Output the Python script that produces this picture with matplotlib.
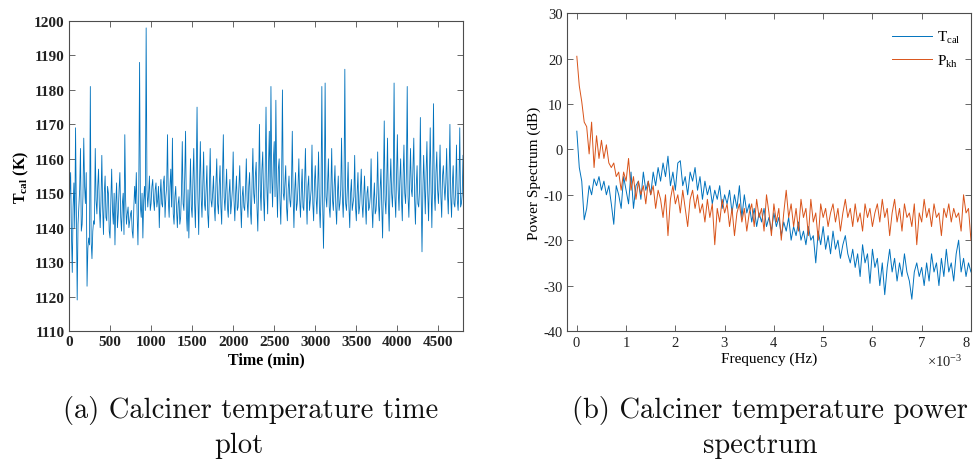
import numpy as np
import matplotlib
matplotlib.use("Agg")
import matplotlib.pyplot as plt
from matplotlib.ticker import ScalarFormatter, MultipleLocator

plt.rcParams['font.family'] = ['Liberation Serif', 'DejaVu Serif']
plt.rcParams['mathtext.fontset'] = 'custom'
plt.rcParams['mathtext.rm'] = 'Liberation Serif'
plt.rcParams['mathtext.it'] = 'Liberation Serif:italic'
plt.rcParams['mathtext.bf'] = 'Liberation Serif:bold'
plt.rcParams['axes.unicode_minus'] = False

# Calciner temperature, sampled every 10 min (K)
time_step_min = 10
t_cal = [
    1143, 1150, 1156, 1138, 1127, 1146, 1153, 1140, 1169, 1144, 1119, 1141, 1146, 1151, 1163, 1139, 1141, 1149, 1166, 1152,
    1147, 1156, 1123, 1134, 1137, 1135, 1181, 1136, 1131, 1139, 1142, 1141, 1163, 1148, 1144, 1152, 1157, 1146, 1140, 1148,
    1161, 1146, 1138, 1150, 1155, 1143, 1142, 1152, 1150, 1139, 1137, 1148, 1157, 1145, 1141, 1150, 1135, 1147, 1153, 1140,
    1144, 1151, 1156, 1143, 1139, 1147, 1150, 1138, 1167, 1148, 1141, 1144, 1146, 1140, 1142, 1144, 1145, 1139, 1137, 1146,
    1152, 1147, 1156, 1144, 1135, 1150, 1188, 1146, 1143, 1150, 1137, 1148, 1152, 1145, 1198, 1151, 1146, 1150, 1155, 1145,
    1147, 1152, 1154, 1148, 1145, 1151, 1153, 1146, 1148, 1152, 1140, 1149, 1154, 1147, 1146, 1153, 1155, 1143, 1149, 1152,
    1167, 1148, 1143, 1152, 1157, 1146, 1166, 1144, 1141, 1149, 1152, 1145, 1140, 1147, 1149, 1141, 1143, 1150, 1165, 1147,
    1145, 1155, 1168, 1144, 1139, 1151, 1137, 1149, 1160, 1146, 1143, 1154, 1163, 1147, 1140, 1156, 1175, 1149, 1138, 1153,
    1165, 1149, 1143, 1153, 1162, 1147, 1145, 1151, 1158, 1144, 1140, 1152, 1163, 1148, 1146, 1150, 1155, 1146, 1142, 1153,
    1160, 1147, 1144, 1152, 1158, 1146, 1141, 1155, 1167, 1149, 1145, 1151, 1157, 1146, 1143, 1150, 1154, 1144, 1147, 1151,
    1162, 1148, 1142, 1150, 1155, 1145, 1146, 1152, 1158, 1147, 1140, 1149, 1152, 1146, 1145, 1151, 1160, 1148, 1143, 1152,
    1156, 1145, 1141, 1153, 1163, 1150, 1147, 1155, 1159, 1146, 1139, 1152, 1170, 1151, 1145, 1157, 1162, 1149, 1142, 1156,
    1175, 1152, 1144, 1158, 1168, 1150, 1181, 1155, 1146, 1160, 1165, 1149, 1177, 1153, 1143, 1157, 1160, 1148, 1141, 1154,
    1180, 1150, 1148, 1153, 1158, 1146, 1142, 1151, 1155, 1148, 1146, 1152, 1168, 1149, 1140, 1151, 1156, 1145, 1147, 1152,
    1160, 1148, 1143, 1151, 1157, 1146, 1145, 1153, 1163, 1149, 1141, 1152, 1155, 1145, 1148, 1151, 1164, 1147, 1142, 1153,
    1158, 1149, 1144, 1152, 1162, 1146, 1140, 1150, 1181, 1147, 1134, 1150, 1182, 1149, 1146, 1153, 1160, 1146, 1143, 1151,
    1163, 1148, 1145, 1152, 1158, 1146, 1141, 1150, 1155, 1145, 1147, 1151, 1166, 1149, 1143, 1152, 1186, 1147, 1145, 1151,
    1159, 1146, 1140, 1150, 1154, 1145, 1147, 1149, 1161, 1146, 1142, 1150, 1156, 1144, 1146, 1151, 1157, 1147, 1143, 1149,
    1155, 1147, 1141, 1150, 1152, 1145, 1146, 1149, 1160, 1146, 1140, 1148, 1153, 1144, 1145, 1150, 1162, 1147, 1142, 1151,
    1157, 1146, 1137, 1152, 1171, 1148, 1144, 1153, 1166, 1147, 1139, 1152, 1160, 1150, 1146, 1154, 1182, 1149, 1143, 1155,
    1167, 1151, 1145, 1154, 1160, 1148, 1142, 1155, 1164, 1150, 1147, 1156, 1181, 1149, 1143, 1153, 1163, 1151, 1149, 1157,
    1166, 1148, 1141, 1152, 1158, 1147, 1146, 1151, 1172, 1149, 1133, 1150, 1161, 1153, 1144, 1156, 1165, 1150, 1142, 1154,
    1169, 1152, 1140, 1155, 1176, 1150, 1145, 1156, 1162, 1151, 1147, 1154, 1164, 1149, 1143, 1155, 1158, 1152, 1148, 1153,
    1163, 1150, 1144, 1155, 1170, 1149, 1143, 1153, 1158, 1147, 1146, 1151, 1164, 1148, 1145, 1152, 1169, 1146, 1147, 1150,
    1161,
]

# Power spectra (dB), frequency step 0.05e-3 Hz
freq_step_mhz = 0.05
spec_tcal = [
    4, -4, -7, -15.5, -13, -8, -10, -6.5, -8, -6, -9, -7, -10, -8, -12, -16.5, -8, -10, -13, -6,
    -9, -12, -5, -13, -8, -7, -11, -5, -9, -7, -10, -5, -8, -4, -7, -3, -6, -1.5, -8, -5,
    -9, -3, -2.5, -8, -6, -10, -5, -7, -4, -9, -6, -11, -7, -10, -8, -12, -9, -11, -8, -13,
    -10, -12, -9, -14, -10, -13, -8, -15, -10, -14, -12, -16, -13, -17, -14, -16, -13, -17, -15, -18,
    -14, -17, -15, -19, -16, -18, -15, -20, -17, -19, -16, -20, -18, -21, -17, -20, -19, -25, -18, -21,
    -17, -22, -19, -23, -18, -22, -20, -24, -21, -19, -23, -25, -22, -26, -23, -28, -21, -25, -23, -29.5,
    -22, -26, -24, -30, -25, -32, -26, -22, -27, -24, -29, -25, -28, -23, -27, -29, -33, -27, -25, -28,
    -26, -30, -25, -29, -23, -27, -25, -30, -24, -28, -22, -27, -25, -29, -23, -20, -27, -24, -28, -25,
    -27,
]
spec_pkh = [
    20.5, 14, 10.5, 6, 5, -1, 6, -4, 3, -2, 2, -2, 1, -3, -4, -3, -6, -5, -9, -5,
    -7, -2, -9, -6, -11, -7, -10, -8, -12, -7, -10, -8, -13, -9, -11, -15, -10, -19, -11, -8,
    -12, -10, -14, -9, -13, -17, -11, -9, -13, -10, -14, -12, -16, -11, -15, -12, -21, -13, -16, -11,
    -14, -12, -17, -13, -19, -14, -12, -16, -13, -18, -14, -12, -17, -11, -15, -13, -18, -10, -14, -19,
    -12, -16, -13, -20, -14, -9, -15, -12, -17, -13, -18, -11, -15, -13, -19, -11, -16, -14, -20, -12,
    -15, -13, -17, -14, -12, -16, -13, -18, -14, -11, -15, -13, -17, -12, -16, -14, -18, -12, -15, -13,
    -17, -14, -12, -16, -11, -15, -13, -19, -14, -11, -16, -13, -18, -12, -15, -14, -17, -12, -21, -14,
    -16, -11, -15, -13, -17, -12, -15, -14, -19, -13, -15, -12, -16, -13, -15, -14, -18, -10, -14, -13,
    -20,
]
series_labels = [r'T$_{\rm cal}$', r'P$_{\rm kh}$']
caption_a = ['(a) Calciner temperature time', 'plot']
caption_b = ['(b) Calciner temperature power', 'spectrum']

blue = '#0072BD'
orange = '#D95319'
spine_col = '#4d4d4d'

time_min = np.arange(len(t_cal)) * time_step_min
freq_hz = np.arange(len(spec_tcal)) * freq_step_mhz * 1e-3

fig = plt.figure(figsize=(9.73, 4.64), dpi=100)

# ---- (a) time plot ----
ax1 = fig.add_axes([0.0709, 0.2845, 0.405, 0.668])
ax1.plot(time_min, t_cal, color=blue, lw=0.6)
ax1.set_xlim(0, 4800)
ax1.set_ylim(1110, 1200)
ax1.xaxis.set_major_locator(MultipleLocator(500))
ax1.yaxis.set_major_locator(MultipleLocator(10))
ax1.set_xlabel('Time (min)', fontsize=11.5, fontweight='bold', labelpad=2)
ax1.set_ylabel(r'$\mathbf{T_{cal}}$ (K)', fontsize=11.5, fontweight='bold', labelpad=2)
for lab in ax1.get_xticklabels() + ax1.get_yticklabels():
    lab.set_fontweight('bold')
ax1.tick_params(labelsize=11)

# ---- (b) power spectrum ----
ax2 = fig.add_axes([0.5827, 0.2845, 0.4152, 0.685])
ax2.plot(freq_hz, spec_tcal, color=blue, lw=0.7, label=series_labels[0])
ax2.plot(freq_hz, spec_pkh, color=orange, lw=0.7, label=series_labels[1])
ax2.set_xlim(-0.2e-3, 8e-3)
ax2.set_ylim(-40, 30)
ax2.xaxis.set_major_locator(MultipleLocator(1e-3))
ax2.yaxis.set_major_locator(MultipleLocator(10))
fmt = ScalarFormatter(useMathText=True)
fmt.set_powerlimits((-2, 2))
ax2.xaxis.set_major_formatter(fmt)
offset = ax2.xaxis.get_offset_text()
offset.set_fontsize(10.5)
offset.set_x(0.98)
ax2.set_xlabel('Frequency (Hz)', fontsize=11, labelpad=2)
ax2.set_ylabel('Power Spectrum (dB)', fontsize=11, labelpad=2)
ax2.tick_params(labelsize=10.5)
leg = ax2.legend(loc='upper right', bbox_to_anchor=(1.0, 0.984), frameon=False, fontsize=11,
                 handlelength=2.6, handletextpad=0.3, labelspacing=0.5, borderaxespad=0.3)

for ax in (ax1, ax2):
    ax.tick_params(direction='in', top=True, right=True, length=4, width=0.6,
                   color=spine_col, labelcolor='#222222', pad=3)
    for s in ax.spines.values():
        s.set_color(spine_col)
        s.set_linewidth(0.8)

# keep the tick label at the right axis limit inside the figure edge
fig.canvas.draw()
x_right = ax2.get_xlim()[1]
for tick in ax2.xaxis.get_major_ticks():
    if abs(tick.get_loc() - x_right) < 1e-9:
        tick.label1.set_horizontalalignment('right')

# captions
cap_kw = dict(family=['cmr10', 'DejaVu Serif'], fontsize=20.5, ha='center', va='center', color='#111111')
fig.text(251 / 973, 1 - 411 / 464, caption_a[0], **cap_kw)
fig.text(239 / 973, 1 - 446 / 464, caption_a[1], **cap_kw)
fig.text(770 / 973, 1 - 411 / 464, caption_b[0], **cap_kw)
fig.text(760 / 973, 1 - 446 / 464, caption_b[1], **cap_kw)

fig.savefig('out.png', dpi=100)
